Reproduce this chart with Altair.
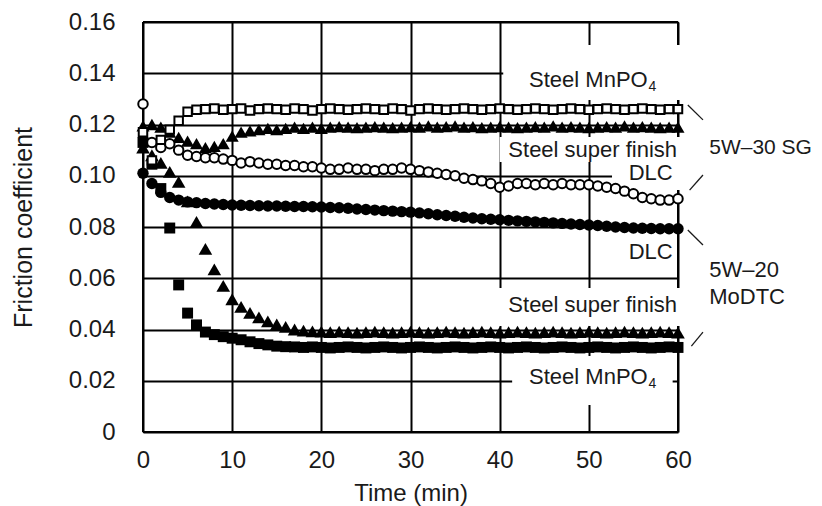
import altair as alt
import pandas as pd

time_min = list(range(61))

# 5W-30 SG, Steel MnPO4 (open squares)
sg_mnpo4 = [0.117, 0.106, 0.114, 0.118, 0.1215, 0.125, 0.1258, 0.126, 0.1262, 0.1258,
            0.126, 0.1262, 0.1255, 0.126, 0.1262, 0.126, 0.1258, 0.1262, 0.126, 0.1255,
            0.126, 0.1262, 0.126, 0.1258, 0.126, 0.1262, 0.126, 0.1258, 0.1262, 0.126,
            0.1255, 0.126, 0.1262, 0.126, 0.1258, 0.126, 0.1262, 0.126, 0.1258, 0.126,
            0.1262, 0.126, 0.1258, 0.126, 0.1262, 0.126, 0.1258, 0.126, 0.1262, 0.126,
            0.1258, 0.126, 0.1262, 0.126, 0.1258, 0.126, 0.1262, 0.126, 0.1258, 0.126, 0.126]
# 5W-30 SG, Steel super finish (filled triangles)
sg_super = [0.1195, 0.120, 0.119, 0.117, 0.115, 0.1135, 0.1125, 0.111, 0.1115, 0.1125,
            0.1155, 0.117, 0.1175, 0.118, 0.1185, 0.118, 0.1185, 0.119, 0.1185, 0.119,
            0.1185, 0.119, 0.1192, 0.119, 0.1188, 0.119, 0.1192, 0.119, 0.1188, 0.119,
            0.1192, 0.119, 0.1195, 0.119, 0.1192, 0.1195, 0.119, 0.1192, 0.1188, 0.119,
            0.1192, 0.119, 0.1188, 0.119, 0.1192, 0.119, 0.1195, 0.119, 0.1192, 0.119,
            0.1188, 0.119, 0.1192, 0.119, 0.1195, 0.119, 0.1192, 0.119, 0.1188, 0.119, 0.119]
# 5W-30 SG, DLC (open circles)
sg_dlc = [0.128, 0.113, 0.111, 0.1125, 0.110, 0.108, 0.1075, 0.107, 0.107, 0.1065,
          0.106, 0.105, 0.1055, 0.105, 0.1045, 0.1045, 0.104, 0.104, 0.1035, 0.1035,
          0.103, 0.1025, 0.1025, 0.103, 0.1025, 0.1025, 0.102, 0.1025, 0.1025, 0.103,
          0.1025, 0.102, 0.1015, 0.101, 0.1005, 0.100, 0.099, 0.0985, 0.098, 0.097,
          0.0955, 0.096, 0.097, 0.097, 0.0965, 0.097, 0.0965, 0.097, 0.0965, 0.0965,
          0.0965, 0.096, 0.0955, 0.095, 0.094, 0.093, 0.0915, 0.091, 0.0905, 0.0905, 0.091]
# 5W-20 MoDTC, DLC (filled circles)
mo_dlc = [0.101, 0.097, 0.0935, 0.0915, 0.0905, 0.0898, 0.0895, 0.0892, 0.089, 0.0888,
          0.0886, 0.0885, 0.0884, 0.0883, 0.0882, 0.0882, 0.0881, 0.088, 0.088, 0.0879,
          0.0878, 0.0876, 0.0875, 0.0873, 0.087, 0.0868, 0.0866, 0.0864, 0.0862, 0.086,
          0.0858, 0.0855, 0.0852, 0.0848, 0.0845, 0.0842, 0.0838, 0.0835, 0.0832, 0.083,
          0.0828, 0.0826, 0.0824, 0.0822, 0.082, 0.0818, 0.0816, 0.0814, 0.0812, 0.081,
          0.0808, 0.0806, 0.0803, 0.080, 0.0798, 0.0796, 0.0795, 0.0794, 0.0793, 0.0793, 0.0793]
# 5W-20 MoDTC, Steel super finish (filled triangles)
mo_super = [0.111, 0.108, 0.105, 0.1015, 0.0976, 0.090, 0.082, 0.0715, 0.0635, 0.057,
            0.0518, 0.0488, 0.0465, 0.0447, 0.0432, 0.042, 0.041, 0.040, 0.0396, 0.0393,
            0.0392, 0.039, 0.0392, 0.039, 0.0388, 0.039, 0.0392, 0.039, 0.0388, 0.039,
            0.0392, 0.039, 0.0388, 0.039, 0.0392, 0.039, 0.0388, 0.039, 0.0392, 0.039,
            0.0388, 0.039, 0.0392, 0.039, 0.0388, 0.039, 0.0392, 0.039, 0.0388, 0.039,
            0.0392, 0.039, 0.0388, 0.039, 0.0392, 0.039, 0.0388, 0.039, 0.0392, 0.039, 0.0388]
# 5W-20 MoDTC, Steel MnPO4 (filled squares)
mo_mnpo4 = [0.113, 0.1045, 0.095, 0.0796, 0.0574, 0.0464, 0.0418, 0.039, 0.038, 0.0372,
            0.0366, 0.036, 0.0352, 0.0345, 0.034, 0.0335, 0.0333, 0.0332, 0.033, 0.0332,
            0.033, 0.0328, 0.033, 0.0332, 0.033, 0.0328, 0.033, 0.0332, 0.033, 0.0328,
            0.033, 0.0332, 0.033, 0.0328, 0.033, 0.0332, 0.033, 0.0328, 0.033, 0.0332,
            0.033, 0.0328, 0.033, 0.0332, 0.033, 0.0328, 0.033, 0.0332, 0.033, 0.0328,
            0.033, 0.0332, 0.033, 0.0328, 0.033, 0.0332, 0.033, 0.0328, 0.033, 0.0332, 0.033]

x_ticks = [0, 10, 20, 30, 40, 50, 60]
y_ticks = [0, 0.02, 0.04, 0.06, 0.08, 0.10, 0.12, 0.14, 0.16]

FONT = "Liberation Sans"
INK = "#1a1a1a"


def frame(vals):
    return pd.DataFrame({"t": time_min, "v": vals})


x_enc = alt.X("t:Q", scale=alt.Scale(domain=[0, 60], nice=False, zero=False),
              axis=alt.Axis(values=x_ticks, grid=True, gridColor="black", gridWidth=2,
                            domain=False, ticks=False, labelFontSize=24, labelColor=INK,
                            labelPadding=16, labelFont=FONT, labelFlush=False,
                            title="Time (min)",
                            titleFont=FONT, titleFontSize=24, titleFontWeight="normal",
                            titleColor=INK, titlePadding=9))
y_enc = alt.Y("v:Q", scale=alt.Scale(domain=[0, 0.16], nice=False, zero=False),
              axis=alt.Axis(values=y_ticks, grid=True, gridColor="black", gridWidth=2,
                            domain=False, ticks=False, labelFontSize=24, labelColor=INK,
                            labelPadding=28, labelFont=FONT, labelFlush=False,
                            labelExpr="datum.value == 0 ? '0' : format(datum.value, '.2f')",
                            title="Friction coefficient", titleFont=FONT, titleFontSize=25,
                            titleFontWeight="normal", titleColor=INK, titlePadding=32))

# plot frame (data coordinates of the domain corners)
frame_df = pd.DataFrame({"t": [0, 0, 0, 60], "t2": [60, 60, 0, 60],
                         "v": [0, 0.16, 0, 0], "v2": [0, 0.16, 0.16, 0.16]})
frame_layer = alt.Chart(frame_df).mark_rule(color="black", strokeWidth=2).encode(
    x=x_enc, x2="t2:Q", y=y_enc, y2="v2:Q")

# white label backgrounds (break grid lines behind the annotations)
boxes = pd.DataFrame({
    "t":  [40.4, 40.0, 52.6, 53.6, 39.5, 41.4],
    "t2": [61.4, 60.8, 60.8, 59.6, 60.8, 59.4],
    "v":  [0.1510, 0.1151, 0.1061, 0.0749, 0.0562, 0.0297],
    "v2": [0.1296, 0.1054, 0.0944, 0.0652, 0.0414, 0.0105],
})
box_layer = alt.Chart(boxes).mark_rect(color="white", opacity=1).encode(
    x=x_enc, x2="t2:Q", y=y_enc, y2="v2:Q")

l_mo_mnpo4 = alt.Chart(frame(mo_mnpo4)).mark_point(shape="square", filled=True, color="black", opacity=1, size=120).encode(x=x_enc, y=y_enc)
l_mo_super = alt.Chart(frame(mo_super)).mark_point(shape="triangle-up", filled=True, color="black", opacity=1, size=185).encode(x=x_enc, y=y_enc)
l_mo_dlc = alt.Chart(frame(mo_dlc)).mark_point(shape="circle", filled=True, color="black", opacity=1, size=130).encode(x=x_enc, y=y_enc)
l_sg_super = alt.Chart(frame(sg_super)).mark_point(shape="triangle-up", filled=True, color="black", opacity=1, size=170).encode(x=x_enc, y=y_enc)
l_sg_dlc = alt.Chart(frame(sg_dlc)).mark_point(shape="circle", fill="white", stroke="black", strokeWidth=2, opacity=1, size=90).encode(x=x_enc, y=y_enc)
l_sg_mnpo4 = alt.Chart(frame(sg_mnpo4)).mark_point(shape="square", fill="white", stroke="black", strokeWidth=2, opacity=1, size=72).encode(x=x_enc, y=y_enc)

# annotations
right_labels = pd.DataFrame({
    "t": [56.6, 59.9, 59.4, 59.4, 59.9, 56.6],
    "v": [0.1374, 0.1100, 0.1011, 0.0702, 0.0496, 0.0215],
    "label": ["Steel MnPO", "Steel super finish", "DLC", "DLC", "Steel super finish", "Steel MnPO"],
})
subs = pd.DataFrame({"t": [56.7, 56.7], "v": [0.1348, 0.0189], "label": ["4", "4"]})
oil_labels = pd.DataFrame({
    "t": [63.5, 63.5, 63.5],
    "v": [0.1108, 0.0632, 0.0527],
    "label": ["5W–30 SG", "5W–20", "MoDTC"],
    "size": [21, 22, 22],
})
leaders = pd.DataFrame({
    "t":  [61.1, 61.3, 61.1, 61.5],
    "t2": [62.8, 62.8, 62.8, 62.8],
    "v":  [0.1276, 0.0944, 0.0788, 0.0335],
    "v2": [0.1218, 0.1003, 0.0730, 0.0390],
})

txt_r = alt.Chart(right_labels).mark_text(align="right", baseline="middle", font=FONT, fontSize=22, color=INK).encode(x=x_enc, y=y_enc, text="label:N")
txt_sub = alt.Chart(subs).mark_text(align="left", baseline="middle", font=FONT, fontSize=14, color=INK).encode(x=x_enc, y=y_enc, text="label:N")
txt_oil = alt.Chart(oil_labels).mark_text(align="left", baseline="middle", font=FONT, color=INK).encode(
    x=x_enc, y=y_enc, text="label:N", size=alt.Size("size:Q", scale=None, legend=None))
lead_layer = alt.Chart(leaders).mark_rule(color=INK, strokeWidth=1.3).encode(x=x_enc, x2="t2:Q", y=y_enc, y2="v2:Q")

chart = alt.layer(
    frame_layer, box_layer,
    l_mo_mnpo4, l_mo_super, l_mo_dlc, l_sg_super, l_sg_dlc, l_sg_mnpo4,
    txt_r, txt_sub, txt_oil, lead_layer,
).properties(
    width=535, height=410,
    padding={"left": 135, "top": 14, "right": 136, "bottom": 76},
    autosize=alt.AutoSizeParams(type="none"),
).configure_view(stroke=None).configure(background="white")

chart.save("out.html", embed_options={"renderer": "svg", "actions": False})
